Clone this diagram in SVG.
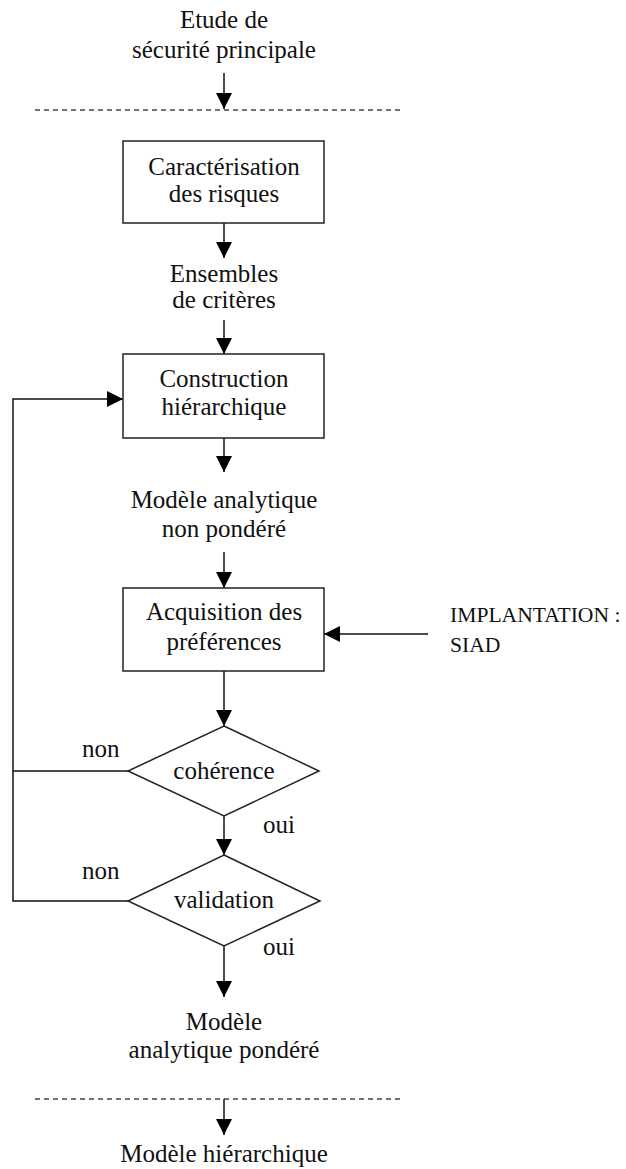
<svg xmlns="http://www.w3.org/2000/svg" width="626" height="1169" viewBox="0 0 626 1169">
<style>
text{font-family:"Liberation Serif","Times New Roman",serif;font-size:25px;fill:#111;}
.c{text-anchor:middle;}
.s{font-size:21.6px;}
.box{fill:#fff;stroke:#222;stroke-width:1.5;}
.ln{fill:none;stroke:#111;stroke-width:1.5;}
.dash{fill:none;stroke:#444;stroke-width:1.5;stroke-dasharray:5 4;}
</style>
<defs>
<marker id="ah" markerUnits="userSpaceOnUse" markerWidth="16" markerHeight="16" viewBox="0 0 16 16" refX="16" refY="8" orient="auto">
<path d="M0,0 L16,8 L0,16 Z" fill="#000"/>
</marker>
</defs>
<g id="separators">
<line class="dash" x1="35" y1="110" x2="400" y2="110"/>
<line class="dash" x1="35" y1="1099" x2="400" y2="1099"/>
</g>
<g id="connectors">
<line class="ln" x1="224" y1="73" x2="224" y2="109" marker-end="url(#ah)"/>
<line class="ln" x1="224" y1="223" x2="224" y2="258" marker-end="url(#ah)"/>
<line class="ln" x1="224" y1="320" x2="224" y2="354" marker-end="url(#ah)"/>
<line class="ln" x1="224" y1="438" x2="224" y2="472" marker-end="url(#ah)"/>
<line class="ln" x1="224" y1="552" x2="224" y2="588" marker-end="url(#ah)"/>
<line class="ln" x1="224" y1="671" x2="224" y2="726" marker-end="url(#ah)"/>
<line class="ln" x1="224" y1="816" x2="224" y2="855" marker-end="url(#ah)"/>
<line class="ln" x1="224" y1="946" x2="224" y2="997" marker-end="url(#ah)"/>
<line class="ln" x1="224" y1="1099" x2="224" y2="1135" marker-end="url(#ah)"/>
<line class="ln" x1="428" y1="634" x2="324" y2="634" marker-end="url(#ah)"/>
<polyline class="ln" points="128,771 13,771"/>
<polyline class="ln" points="128,901 13,901 13,399 123,399" marker-end="url(#ah)"/>
</g>
<g id="n-etude">
<text class="c" x="224" y="28">Etude de</text>
<text class="c" x="224" y="58">sécurité principale</text>
</g>
<g id="n-caracterisation">
<rect class="box" x="123" y="141" width="201" height="82"/>
<text class="c" x="224" y="175">Caractérisation</text>
<text class="c" x="224" y="202">des risques</text>
</g>
<g id="n-ensembles">
<text class="c" x="224" y="282">Ensembles</text>
<text class="c" x="224" y="308">de critères</text>
</g>
<g id="n-construction">
<rect class="box" x="123" y="354" width="201" height="84"/>
<text class="c" x="224" y="387">Construction</text>
<text class="c" x="224" y="415">hiérarchique</text>
</g>
<g id="n-modele-non">
<text class="c" x="224" y="508">Modèle analytique</text>
<text class="c" x="224" y="537">non pondéré</text>
</g>
<g id="n-acquisition">
<rect class="box" x="123" y="588" width="201" height="83"/>
<text class="c" x="224" y="620">Acquisition des</text>
<text class="c" x="224" y="650">préférences</text>
</g>
<g id="n-implantation">
<text class="s" x="450" y="622">IMPLANTATION :</text>
<text class="s" x="450" y="652">SIAD</text>
</g>
<g id="n-coherence">
<polygon class="box" points="224,726 319,771 224,816 128,771"/>
<text class="c" x="224" y="779">cohérence</text>
<text x="82" y="757">non</text>
<text x="263" y="833">oui</text>
</g>
<g id="n-validation">
<polygon class="box" points="224,855 320,901 224,946 128,901"/>
<text class="c" x="224" y="908">validation</text>
<text x="82" y="879">non</text>
<text x="263" y="955">oui</text>
</g>
<g id="n-modele-pondere">
<text class="c" x="224" y="1030">Modèle</text>
<text class="c" x="224" y="1058">analytique pondéré</text>
</g>
<g id="n-modele-hierarchique">
<text class="c" x="224" y="1162">Modèle hiérarchique</text>
</g>
</svg>
